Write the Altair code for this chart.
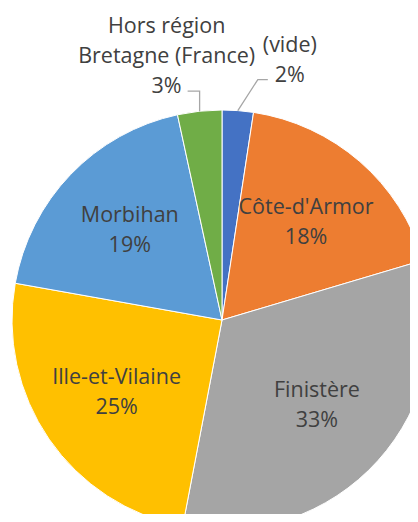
import altair as alt
import pandas as pd
import numpy as np

categories = ["(vide)", "Côte-d'Armor", "Finistère", "Ille-et-Vilaine", "Morbihan", "Hors région Bretagne (France)"]
values = [2.4, 18.0, 32.6, 24.8, 18.8, 3.4]
colors = ["#4472C4", "#ED7D31", "#A5A5A5", "#FFC000", "#5B9BD5", "#70AD47"]
label_lines = ["(vide)", "Côte-d'Armor", "Finistère", "Ille-et-Vilaine", "Morbihan", "Hors région\nBretagne (France)"]
inside = [False, True, True, True, True, False]

CX, CY, R = 214, 312, 210
FONT = "Open Sans"
FS = 21.5
LH = 30
TXT = "#404040"

total = sum(values)
df = pd.DataFrame({"cat": categories, "value": values, "order": list(range(len(values)))})
pct = [f"{round(v / total * 100)}%" for v in values]
df["full"] = [f"{l}\n{p}" for l, p in zip(label_lines, pct)]
df["inner"] = [t if i else "" for t, i in zip(df["full"], inside)]
mid = (np.cumsum(values) - np.array(values) / 2) / total * 2 * np.pi
df["ex"] = CX + R * np.sin(mid)
df["ey"] = CY - R * np.cos(mid)

color_scale = alt.Scale(domain=categories, range=colors)
theta = alt.Theta("value:Q", stack=True)
order = alt.Order("order:Q")

pie = alt.Chart(df).mark_arc(outerRadius=R, stroke="white", strokeWidth=1).encode(
    theta=theta,
    order=order,
    color=alt.Color("cat:N", scale=color_scale, legend=None),
    x=alt.value(CX),
    y=alt.value(CY),
)

inner_text = alt.Chart(df).mark_text(
    radius=128, dy=-LH / 2, font=FONT, fontSize=FS, color=TXT, lineBreak="\n", lineHeight=LH,
    align="center", baseline="middle",
).encode(
    theta=theta,
    order=order,
    text="inner:N",
    x=alt.value(CX),
    y=alt.value(CY),
)

# outside labels for the two small slices
vide = df[df.cat == "(vide)"].iloc[0]
hors = df[df.cat == "Hors région Bretagne (France)"].iloc[0]

out_lab = pd.DataFrame({
    "text": [vide.full, hors.full],
    "lx": [vide.ex + 52, hors.ex - 33],
    "ly": [vide.ey - 65, hors.ey - 84],
})
outer_text = alt.Chart(out_lab).mark_text(
    font=FONT, fontSize=FS, color=TXT, lineBreak="\n", lineHeight=LH,
    align="center", baseline="middle",
).encode(
    x=alt.X("lx:Q", scale=None),
    y=alt.Y("ly:Q", scale=None),
    text="text:N",
)

leaders = pd.DataFrame({
    "id": ["v", "v", "v", "h", "h", "h"],
    "k": [0, 1, 2, 0, 1, 2],
    "px": [vide.ex, vide.ex + 20, vide.ex + 30, hors.ex, hors.ex, hors.ex - 12],
    "py": [vide.ey, vide.ey - 31, vide.ey - 31, hors.ey, hors.ey - 20, hors.ey - 20],
})
leader = alt.Chart(leaders).mark_line(color="#A6A6A6", strokeWidth=1.3).encode(
    x=alt.X("px:Q", scale=None),
    y=alt.Y("py:Q", scale=None),
    detail="id:N",
    order="k:Q",
)

chart = alt.layer(pie, inner_text, leader, outer_text).properties(
    width=402, height=506,
    autosize=alt.AutoSizeParams(type="none"),
    padding=0,
).configure_view(stroke=None)

chart.save("out.html", embed_options={"renderer": "svg", "actions": False})
